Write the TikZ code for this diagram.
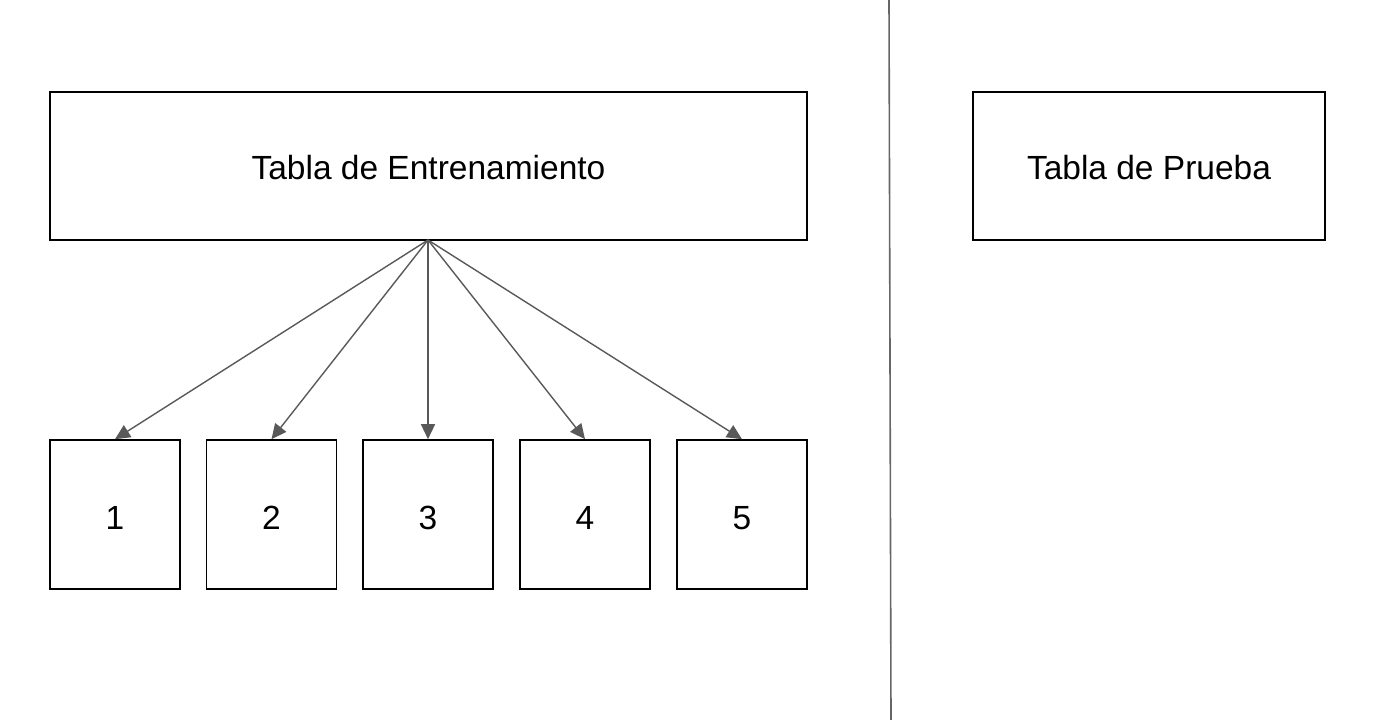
\documentclass[tikz,border=0pt]{standalone}
\usepackage{fontspec}
\setmainfont{Liberation Sans}
\usetikzlibrary{arrows.meta}
\begin{document}
\begin{tikzpicture}[x=1pt,y=-1pt,
  box/.style={draw=black,line width=1.6pt,inner sep=0pt,font=\fontsize{33.5}{38}\selectfont},
  conn/.style={draw=black!65,line width=1.4pt,-{Triangle[length=15pt,width=14pt]}}]
\useasboundingbox (0,0) rectangle (1384,720);
\node[box,minimum width=757pt,minimum height=148pt,text height=26pt,text depth=0pt] (train) at (428.5,166) {Tabla de Entrenamiento};
\node[box,minimum width=352pt,minimum height=148pt,text height=26pt,text depth=0pt] (test) at (1149,166) {Tabla de Prueba};
\foreach \i/\x in {1/115,2/271.5,3/428,4/585,5/742}{
  \node[box,minimum width=130pt,minimum height=149pt,text height=29pt,text depth=0pt] (b\i) at (\x,514.5) {\i};
}
\coordinate (src) at (428,240);
\foreach \i in {1,...,5}{
  \draw[conn] (src) -- (b\i.north);
}
\coordinate (vtop) at (889,0);
\coordinate (vbot) at (891,720);
\draw[black!60,line width=1.6pt] (vtop) -- (vbot);
\end{tikzpicture}
\end{document}
